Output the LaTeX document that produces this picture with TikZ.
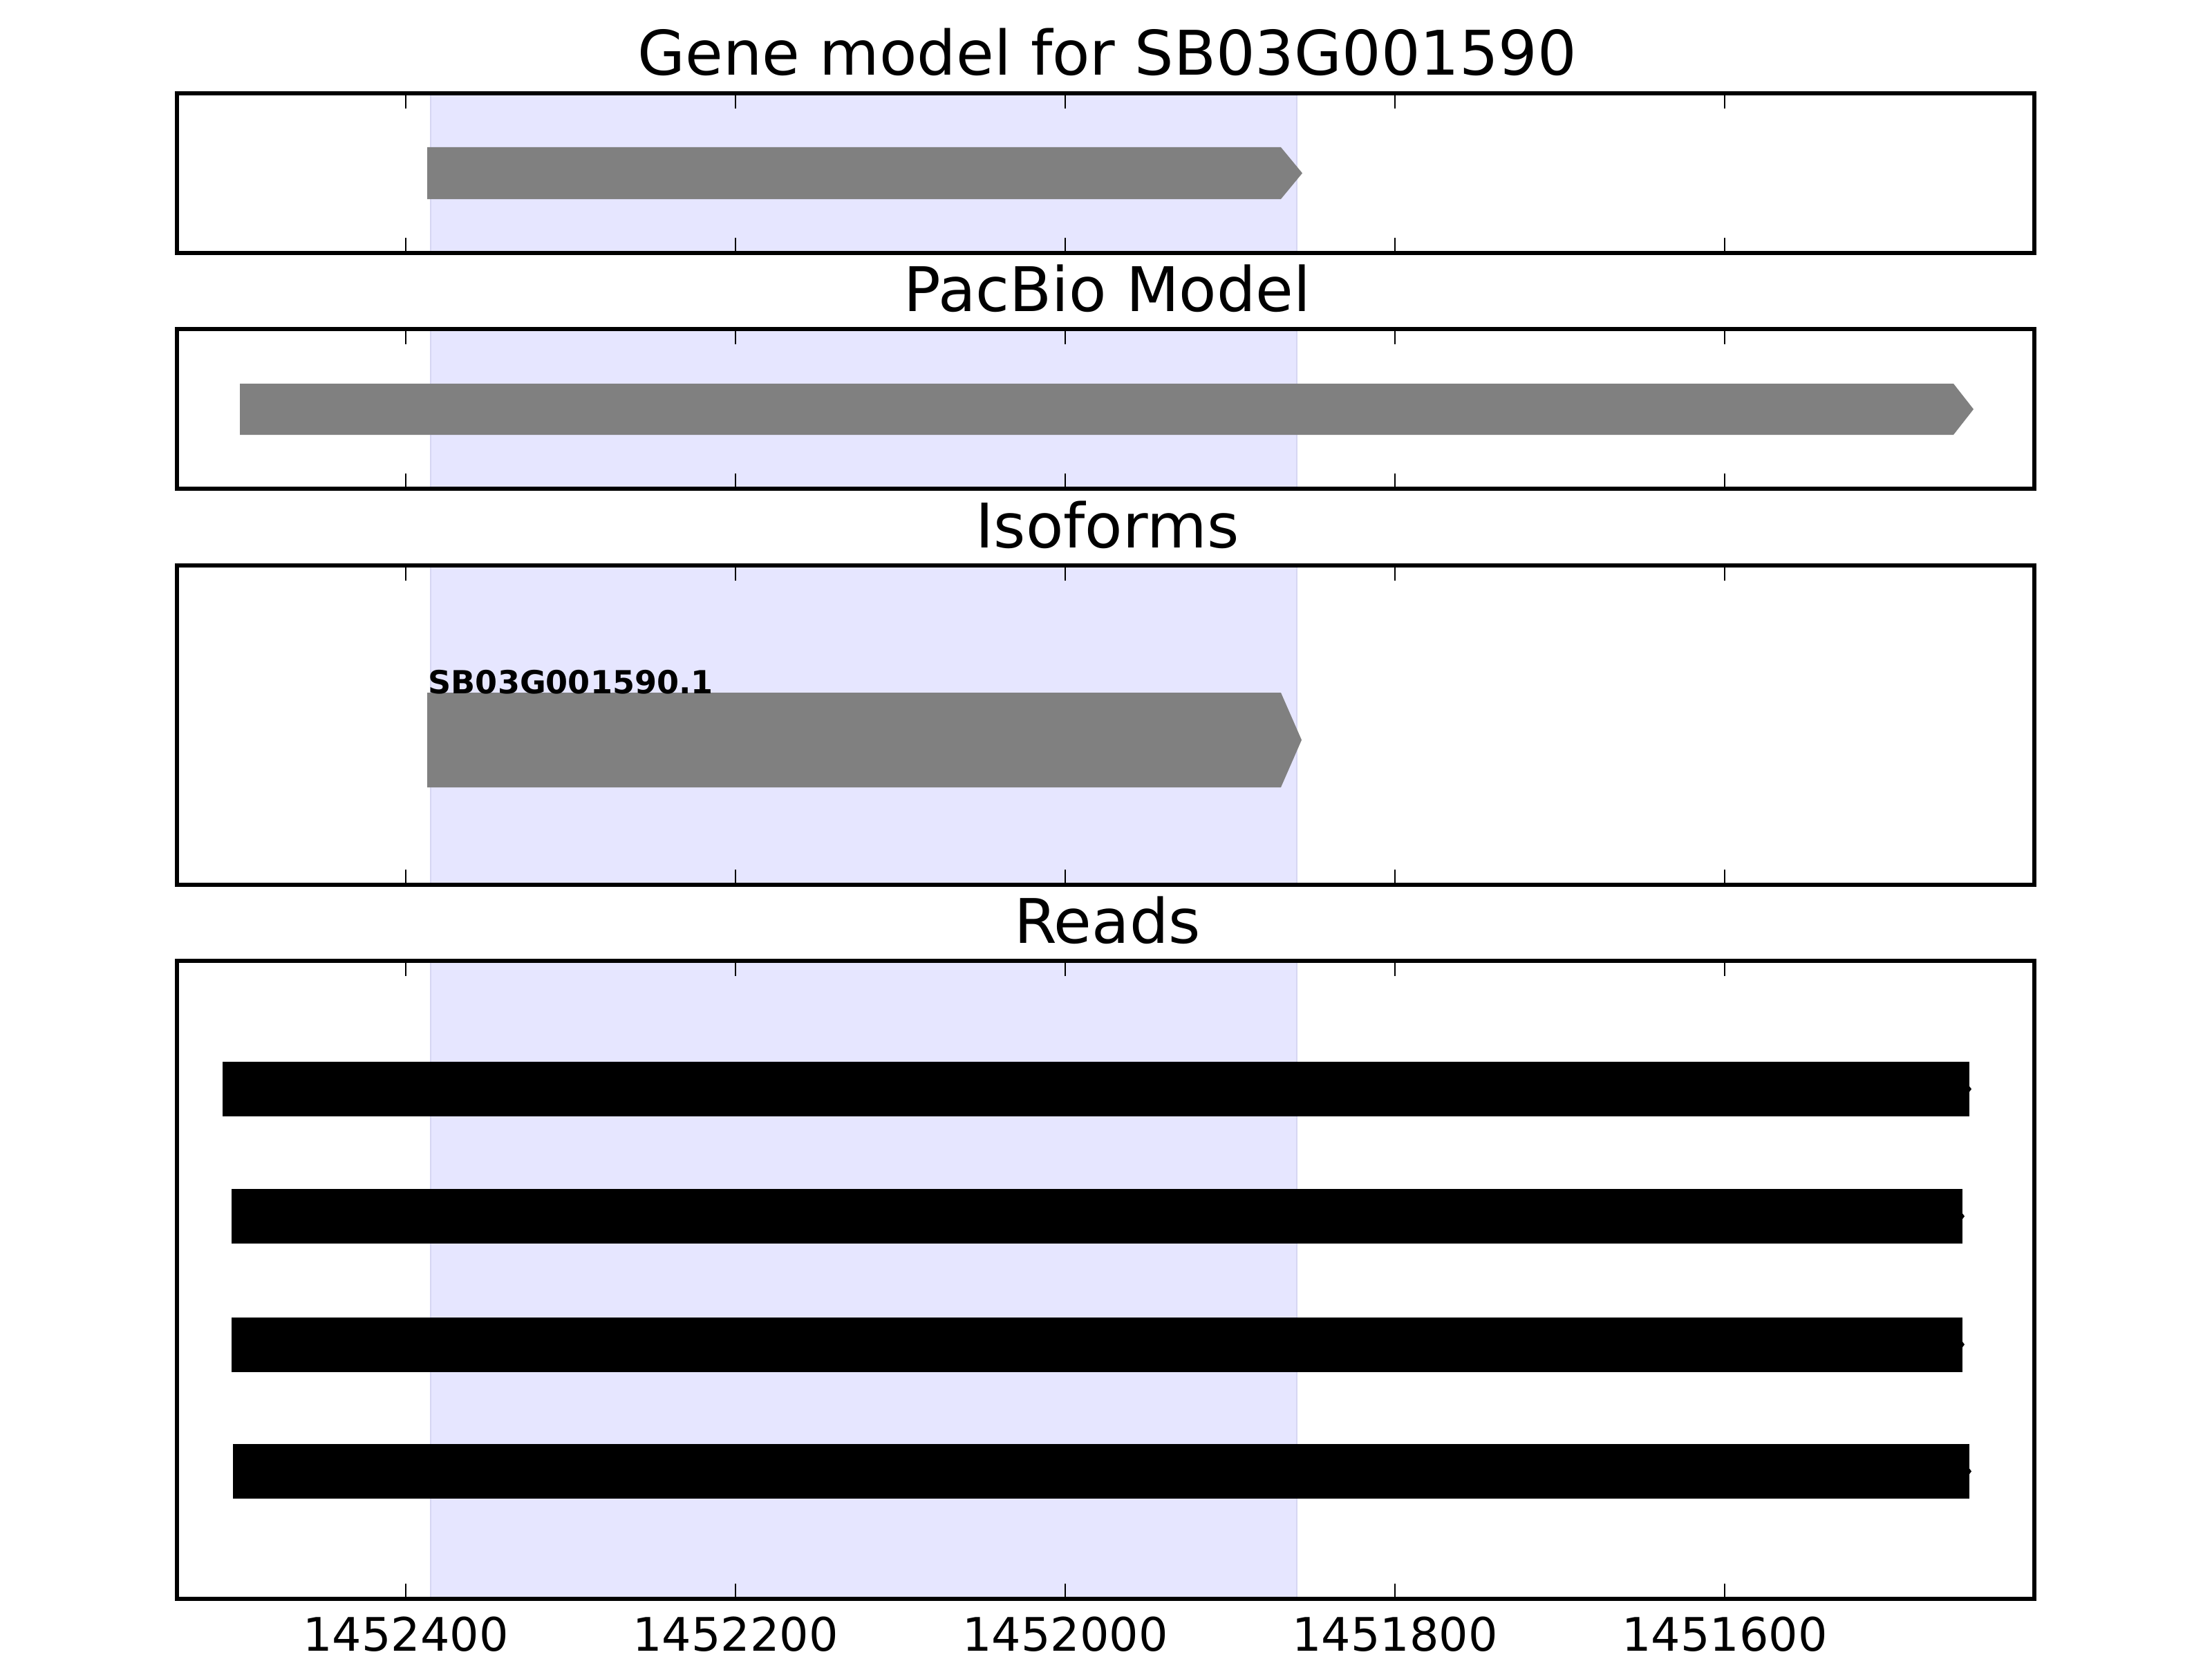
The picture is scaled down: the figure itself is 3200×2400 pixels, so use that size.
\documentclass[tikz,border=0pt]{standalone}
\usepackage{fontspec}
\setmainfont{DejaVu Sans}
\usepackage{tikz}
\definecolor{span}{RGB}{230, 230, 255}
\definecolor{spanedge}{RGB}{214, 214, 242}
\definecolor{feature}{RGB}{128, 128, 128}

\begin{document}
\begin{tikzpicture}[x=0.01cm, y=-0.01cm,
  panel/.style={draw=black, line width=1.58pt},
  axtick/.style={black, line width=0.79pt},
  gene/.style={fill=feature},
  read/.style={fill=black},
  paneltitle/.style={anchor=base, inner sep=0pt, font=\fontsize{25.3}{30}\selectfont},
  ticklabel/.style={anchor=base, inner sep=0pt, font=\fontsize{19}{22}\selectfont}]

  \useasboundingbox (0, 0) rectangle (3200, 2400);

  % four panels, highlighted span and ticks
  \foreach \ya/\yb/\name/\txt in {135/366/genemodel/Gene model for SB03G001590,
      476/707/pacbio/PacBio Model, 818/1280/isoforms/Isoforms, 1390/2313/reads/Reads} {
    \fill[span] (623, \ya) rectangle (1876, \yb);
    \draw[spanedge, line width=0.7pt] (623, \ya) -- (623, \yb) (1876, \ya) -- (1876, \yb);
    \foreach \x in {587, 1064, 1541, 2018, 2495} {
      \draw[axtick] (\x, \ya) -- ++(0, 22);
      \draw[axtick] (\x, \yb) -- ++(0, -22);
    }
    \draw[panel] (256, \ya) rectangle (2943, \yb);
    \node[paneltitle] (\name) at (1602, \ya-26) {\txt};
  }

  % x axis labels
  \foreach \x/\lab in {587/1452400, 1064/1452200, 1541/1452000, 2018/1451800, 2495/1451600}
    \node[ticklabel] (tick\lab) at (\x, 2388) {\lab};

  % gene model, pacbio model and isoform
  \fill[gene] (618, 213) -- (1853, 213) -- (1884, 250.5) -- (1853, 288) -- (618, 288) -- cycle;
  \fill[gene] (347, 555) -- (2826, 555) -- (2855, 592) -- (2826, 629) -- (347, 629) -- cycle;
  \fill[gene] (618, 1002) -- (1853, 1002) -- (1883, 1070.5) -- (1853, 1139) -- (618, 1139) -- cycle;
  \node[anchor=base west, inner sep=0pt, font=\bfseries\fontsize{13.1}{15}\selectfont] (isoname)
    at (619, 1003) {SB03G001590.1};

  % reads
  \foreach \xa/\xb/\yc in {322/2849/1575.5, 335/2839/1759.5, 335/2839/1945, 337/2849/2128.5} {
    \fill[read] (\xa, \yc-39.5) rectangle (\xb, \yc+39.5);
    \fill[read] (\xb, \yc-4) -- (\xb+3, \yc) -- (\xb, \yc+4) -- cycle;
  }

\end{tikzpicture}
\end{document}
